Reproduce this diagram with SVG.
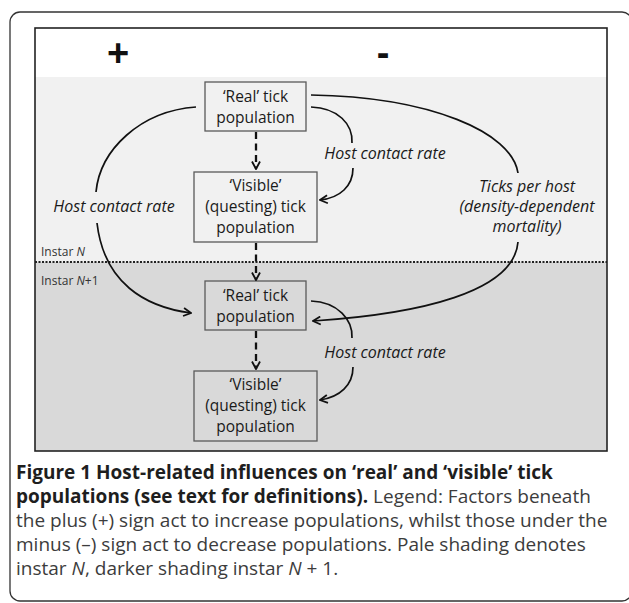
<svg xmlns="http://www.w3.org/2000/svg" width="629" height="603" viewBox="0 0 629 603">
<style>
.frame{fill:#fff;stroke:#333;stroke-width:1.3}
.inner{fill:none;stroke:#222;stroke-width:1.6}
.box{fill:none;stroke:#5a5a5a;stroke-width:1.3}
.bt{font-family:"Open Sans","Liberation Sans",sans-serif;font-size:15.5px;fill:#1a1a1a;text-anchor:middle}
.it{font-style:italic;font-size:16px}
.sign{font-family:"Liberation Sans",Arial,sans-serif;font-weight:bold;font-size:38px;fill:#111;text-anchor:middle}
.conn{fill:none;stroke:#111;stroke-width:1.7}
.dash{stroke-dasharray:7 4.5;stroke-width:2.3}
.cap{font-family:"Open Sans","Liberation Sans",sans-serif;font-size:19px;fill:#3c3c3c}
.capb{font-weight:bold;fill:#1e1e1e}
.sm{font-family:"Open Sans","Liberation Sans",sans-serif;font-size:12px;fill:#333}
</style>
<defs>
<marker id="ah" viewBox="0 0 10 10" refX="9" refY="5" markerWidth="10" markerHeight="10" orient="auto" markerUnits="userSpaceOnUse">
<path d="M1.5,1 L9,5 L1.5,9" fill="none" stroke="#111" stroke-width="1.8" stroke-dasharray="none"/>
</marker>
</defs>
<rect class="frame" x="10" y="12" width="622" height="589" rx="10"/>
<g id="background">
<rect x="35" y="28" width="572" height="49" fill="#ffffff"/>
<rect x="35" y="77" width="572" height="185" fill="#f1f1f1"/>
<rect x="35" y="262" width="572" height="189" fill="#d9d9d9"/>
<line x1="35" y1="262" x2="607" y2="262" stroke="#222" stroke-width="2" stroke-dasharray="2 1.5"/>
<rect class="inner" x="35" y="28" width="572" height="423"/>
<text class="sign" x="118" y="66">+</text>
<text class="sign" x="383" y="66">-</text>
<text class="sm" x="41" y="256">Instar <tspan font-style="italic">N</tspan></text>
<text class="sm" x="41" y="285">Instar <tspan font-style="italic">N</tspan>+1</text>
</g>
<g id="real1">
<rect class="box" x="205" y="82" width="101" height="49"/>
<text class="bt" x="255.5" y="102">‘Real’ tick</text>
<text class="bt" x="255.5" y="123">population</text>
</g>
<g id="visible1">
<rect class="box" x="194" y="172" width="123" height="70"/>
<text class="bt" x="255.5" y="191">‘Visible’</text>
<text class="bt" x="255.5" y="212">(questing) tick</text>
<text class="bt" x="255.5" y="233">population</text>
</g>
<g id="real2">
<rect class="box" x="205" y="281" width="101" height="49"/>
<text class="bt" x="255.5" y="301">‘Real’ tick</text>
<text class="bt" x="255.5" y="322">population</text>
</g>
<g id="visible2">
<rect class="box" x="194" y="371" width="123" height="70"/>
<text class="bt" x="255.5" y="390">‘Visible’</text>
<text class="bt" x="255.5" y="411">(questing) tick</text>
<text class="bt" x="255.5" y="432">population</text>
</g>
<g id="labels">
<text class="bt it" x="385" y="159">Host contact rate</text>
<text class="bt it" x="114" y="212">Host contact rate</text>
<text class="bt it" x="385" y="358">Host contact rate</text>
<text class="bt it" x="527" y="192">Ticks per host</text>
<text class="bt it" x="527" y="212">(density-dependent</text>
<text class="bt it" x="527" y="232">mortality)</text>
</g>
<g id="connectors">
<path class="conn dash" d="M256,132 V169" marker-end="url(#ah)"/>
<path class="conn dash" d="M256,243 V280" marker-end="url(#ah)"/>
<path class="conn dash" d="M256,331 V369" marker-end="url(#ah)"/>
<path class="conn" d="M311,95 C430,97 512,132 518,173"/>
<path class="conn" d="M518,242 C514,292 420,314 313,321" marker-end="url(#ah)"/>
<path class="conn" d="M196,107 C140,111 100,150 96,192"/>
<path class="conn" d="M97,223 C104,283 145,307 191,313" marker-end="url(#ah)"/>
<path class="conn" d="M311,107 C338,108 353,124 352,143"/>
<path class="conn" d="M353,168 C353,186 340,198 320,200" marker-end="url(#ah)"/>
<path class="conn" d="M311,301 C338,302 353,320 352,338"/>
<path class="conn" d="M353,367 C353,385 340,397 320,400" marker-end="url(#ah)"/>
</g>
<g id="caption">
<text class="cap capb" x="16" y="479">Figure 1 Host-related influences on ‘real’ and ‘visible’ tick</text>
<text class="cap" x="16" y="503"><tspan class="capb">populations (see text for definitions).</tspan> Legend: Factors beneath</text>
<text class="cap" x="16" y="527">the plus (+) sign act to increase populations, whilst those under the</text>
<text class="cap" x="16" y="551">minus (–) sign act to decrease populations. Pale shading denotes</text>
<text class="cap" x="16" y="575">instar <tspan font-style="italic">N</tspan>, darker shading instar <tspan font-style="italic">N</tspan> + 1.</text>
</g>
</svg>
